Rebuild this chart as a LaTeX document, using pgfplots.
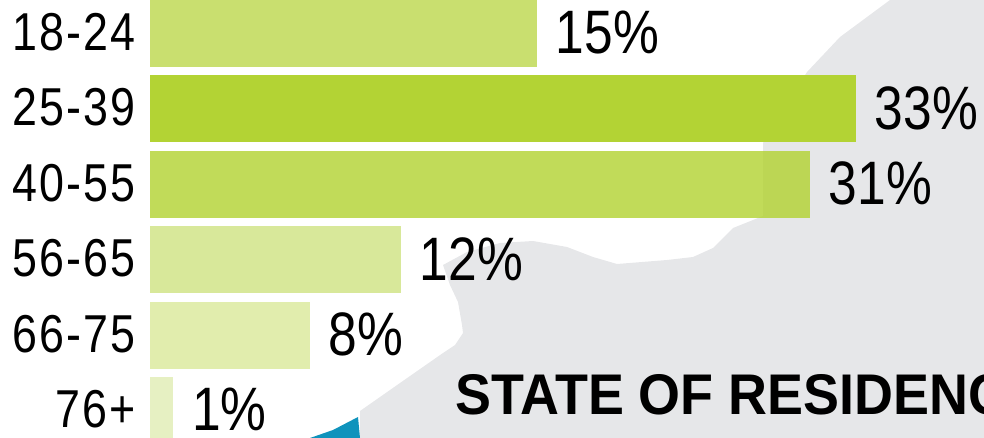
\documentclass[border=0pt]{standalone}
\usepackage{pgfplots}
\pgfplotsset{compat=1.18}
\usepackage{fontspec}
\setmainfont{Liberation Sans}
\newfontfamily\tickfont[FakeStretch=0.84,LetterSpace=4]{Liberation Sans}
\newfontfamily\pctfont[FakeStretch=0.84]{Liberation Sans}
\newfontfamily\titlefont[FakeStretch=0.94]{Liberation Sans}

\definecolor{bgGrey}{HTML}{E6E7E9}
\definecolor{mapBlue}{HTML}{0F93BC}
\definecolor{barA}{HTML}{C9DF6F}
\definecolor{barB}{HTML}{B3D334}
\definecolor{barD}{HTML}{D8E89A}
\definecolor{barE}{HTML}{E1EDAD}
\definecolor{barF}{HTML}{E6F0C2}

\begin{document}
\begin{tikzpicture}
% backdrop in image pixels, y down
\begin{axis}[
  at={(0,0)}, anchor=south west,
  width=738pt, height=328.5pt, scale only axis,
  xmin=0, xmax=984, ymin=0, ymax=438, y dir=reverse,
  axis lines=none, clip=false,
]
\addplot[fill=bgGrey, draw=none] coordinates {
  (890,0) (984,0) (984,438) (360,438) (360,411) (400,383) (443,353)
  (455,345) (463,333) (462,325) (458,302) (450,285) (443,265) (467,252)
  (500,243) (533,241) (567,247) (593,257) (617,264) (667,260) (693,257)
  (713,248) (733,228) (763,216) (763,143) (807,72) (840,37)
} -- cycle;
\addplot[fill=mapBlue, draw=none] coordinates {
  (310,438) (333,430) (358,417) (360,438)
} -- cycle;
\node[anchor=base west, inner sep=0pt, font=\titlefont\bfseries\fontsize{43}{43}\selectfont]
  at (axis cs:455,414) {STATE OF RESIDENCE};
\end{axis}
% bars, x in percent
\begin{axis}[
  at={(112.5pt,0)}, anchor=south west,
  width=625.5pt, height=328.5pt, scale only axis,
  xbar, bar width=0.889, bar shift=0pt,
  xmin=0, xmax=38.99, ymin=-0.444, ymax=5.365, y dir=reverse,
  axis x line=none, axis y line=left, y axis line style={draw=none},
  ytick={0,1,2,3,4,5}, major tick length=0pt,
  yticklabels={18-24,25-39,40-55,56-65,66-75,76+},
  yticklabel style={font=\tickfont\fontsize{40}{40}\selectfont, anchor=east, xshift=-7.5pt, yshift=1pt},
  nodes near coords,
  point meta=explicit symbolic,
  nodes near coords style={font=\pctfont\fontsize{46}{46}\selectfont, anchor=west, inner sep=0pt, xshift=14pt, yshift=0.5pt},
]
\addplot[fill=barA, draw=none] coordinates {(18.09,0)[15\%]};
\addplot[fill=barB, draw=none] coordinates {(33.0,1)[33\%]};
\addplot[fill=barB, fill opacity=0.82, draw=none, nodes near coords style={text opacity=1}] coordinates {(30.85,2)[31\%]};
\addplot[fill=barD, draw=none] coordinates {(11.73,3)[12\%]};
\addplot[fill=barE, draw=none] coordinates {(7.48,4)[8\%]};
\addplot[fill=barF, draw=none] coordinates {(1.08,5)[1\%]};
\end{axis}
\pgfresetboundingbox
\path[use as bounding box] (0,0) rectangle (738pt,328.5pt);
\end{tikzpicture}
\end{document}
